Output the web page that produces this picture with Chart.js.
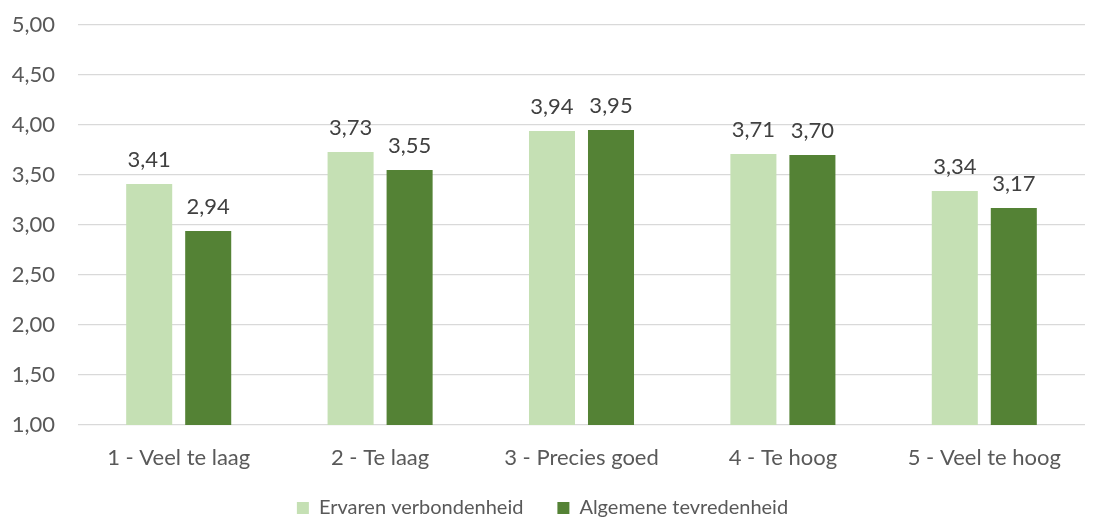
<!DOCTYPE html>
<html><head><meta charset="utf-8">
<script src="https://cdn.jsdelivr.net/npm/chart.js@4/dist/chart.umd.min.js"></script>
<style>html,body{margin:0;padding:0;background:#fff;}#wrap{width:1095px;height:520px;}</style>
</head><body><div id="wrap"><canvas id="c" width="1095" height="520"></canvas></div>
<script>
const categories = ['1 - Veel te laag', '2 - Te laag', '3 - Precies goed', '4 - Te hoog', '5 - Veel te hoog'];
const seriesNames = ['Ervaren verbondenheid', 'Algemene tevredenheid'];
const verbondenheid = [3.41, 3.73, 3.94, 3.71, 3.34];
const tevredenheid = [2.94, 3.55, 3.95, 3.70, 3.17];
const yTicks = [1.00, 1.50, 2.00, 2.50, 3.00, 3.50, 4.00, 4.50, 5.00];

const FONT = 'Lato, "Open Sans", sans-serif';
const FS = 22;
const fmt = v => v.toFixed(2).replace('.', ',');

const labelPlugin = {
  id: 'barLabels',
  afterLayout(chart) {
    // let the category labels extend below the scale box without being clipped
    chart.scales.x.bottom = chart.height;
  },
  afterDatasetsDraw(chart) {
    const ctx = chart.ctx;
    ctx.save();
    ctx.font = FS + 'px ' + FONT;
    ctx.fillStyle = '#404040';
    ctx.textAlign = 'center';
    ctx.textBaseline = 'middle';
    chart.data.datasets.forEach((ds, i) => {
      chart.getDatasetMeta(i).data.forEach((bar, j) => {
        ctx.fillText(fmt(ds.data[j]), bar.x, bar.y - 24);
      });
    });
    ctx.restore();
  }
};

new Chart(document.getElementById('c'), {
  type: 'bar',
  data: {
    labels: categories,
    datasets: [
      { label: seriesNames[0], data: verbondenheid, backgroundColor: '#C5E0B4', categoryPercentage: 0.586, barPercentage: 0.78 },
      { label: seriesNames[1], data: tevredenheid, backgroundColor: '#548235', categoryPercentage: 0.586, barPercentage: 0.78 }
    ]
  },
  options: {
    responsive: false,
    animation: false,
    layout: { padding: { left: 0, right: 10, top: 25, bottom: -8 } },
    plugins: {
      legend: {
        position: 'bottom',
        labels: { font: { family: FONT, size: 20 }, color: '#595959', boxWidth: 12, boxHeight: 12, padding: 34 }
      },
      tooltip: { enabled: false }
    },
    scales: {
      x: {
        afterFit(scale) { scale.height = 39; },
        grid: { display: false },
        border: { display: false },
        ticks: { font: { family: FONT, size: FS }, color: '#595959', padding: 12, maxRotation: 0 },
      },
      y: {
        min: 1, max: 5,
        afterFit(scale) { scale.width = 78; scale.paddingTop = 0; scale.paddingBottom = 0; },
        afterBuildTicks(scale) { scale.ticks = yTicks.map(v => ({ value: v })); },
        grid: { color: '#D9D9D9', lineWidth: 1.3, drawTicks: false },
        border: { display: false },
        ticks: { font: { family: FONT, size: FS }, color: '#595959', padding: 23, callback: v => fmt(v) }
      }
    }
  },
  plugins: [labelPlugin]
});
</script></body></html>
